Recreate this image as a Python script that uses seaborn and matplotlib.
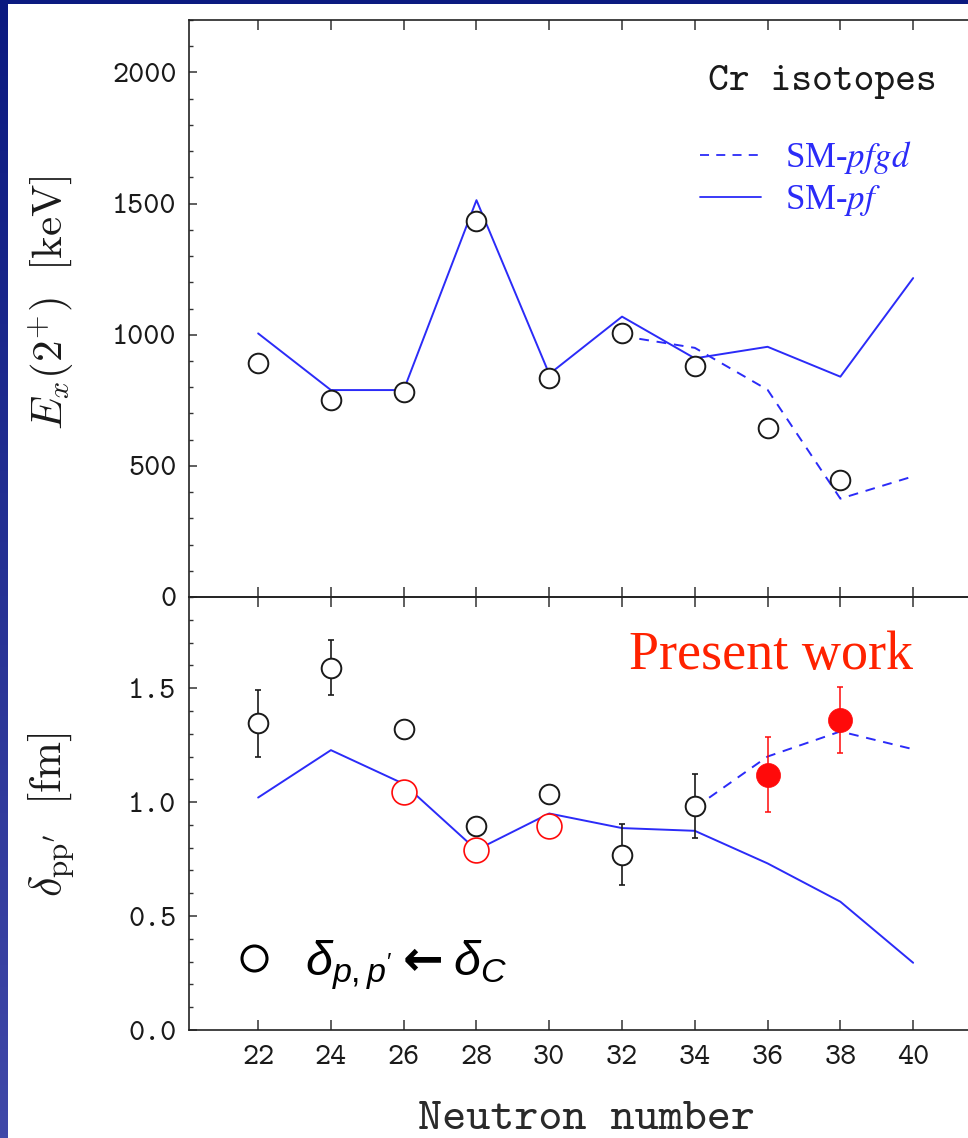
import numpy as np
import pandas as pd
import matplotlib
matplotlib.use("Agg")
import matplotlib.pyplot as plt
import seaborn as sns
from matplotlib.colors import LinearSegmentedColormap
from matplotlib.patches import Rectangle
from matplotlib.lines import Line2D
from matplotlib.ticker import MultipleLocator, FormatStrFormatter, NullLocator

# ---------------- data ----------------
neutrons = [22, 24, 26, 28, 30, 32, 34, 36, 38, 40]

# 2+ excitation energies of Cr isotopes (keV)
ex_exp_n = [22, 24, 26, 28, 30, 32, 34, 36, 38]
ex_exp = [892, 752, 783, 1434, 835, 1007, 880, 646, 446]
ex_pf = [1005, 789, 789, 1513, 850, 1069, 910, 954, 840, 1216]
ex_pfgd_n = [32, 34, 36, 38, 40]
ex_pfgd = [995, 950, 790, 375, 460]

# (p,p') deformation lengths (fm)
dpp_n = [22, 24, 26, 28, 30, 32, 34]
dpp = [1.345, 1.59, 1.32, 0.895, 1.037, 0.77, 0.982]
dpp_err = [0.147, 0.12, 0.0, 0.0, 0.0, 0.135, 0.14]
dc_n = [26, 28, 30]
dc = [1.045, 0.79, 0.893]
present_n = [36, 38]
present = [1.12, 1.36]
present_err = [0.165, 0.143]
dpp_pf = [1.02, 1.228, 1.08, 0.79, 0.95, 0.886, 0.874, 0.731, 0.563, 0.295]
dpp_pfgd_n = [34, 36, 38, 40]
dpp_pfgd = [0.975, 1.2, 1.31, 1.232]

# ---------------- style ----------------
sns.set_theme(style="ticks")
plt.rcParams["font.family"] = ["cmtt10", "DejaVu Sans"]
plt.rcParams["mathtext.fontset"] = "cm"
plt.rcParams["mathtext.rm"] = "Liberation Sans"
plt.rcParams["mathtext.it"] = "Liberation Sans:italic"
plt.rcParams["mathtext.bf"] = "Liberation Sans:bold"
plt.rcParams["axes.unicode_minus"] = False

BLUE = "#2b2bf8"
RED = "#ff0a0a"
INK = "#1a1a1a"
TICK = 22

W, H = 968, 1138
fig = plt.figure(figsize=(W / 100, H / 100), dpi=100)

# framed slide background
bg = fig.add_axes([0, 0, 1, 1], zorder=-10)
grad = np.linspace(0, 1, 256).reshape(-1, 1)
cmap = LinearSegmentedColormap.from_list("frame", ["#0b1a80", "#4048a8"])
bg.imshow(grad, aspect="auto", cmap=cmap, extent=[0, 1, 0, 1], origin="upper")
bg.add_patch(Rectangle((8 / W, 0), 1, 1 - 4 / H, color="white", lw=0))
bg.set_xlim(0, 1)
bg.set_ylim(0, 1)
bg.axis("off")

left = 189 / W
xl = (20.1, 41.6)
width = (xl[1] - xl[0]) * (655 / 18) / W
top_ax = fig.add_axes([left, 1 - 597 / H, width, (597 - 20) / H])
bot_ax = fig.add_axes([left, 1 - 1030 / H, width, (1030 - 597) / H])

# ---------------- upper panel: E_x(2+) ----------------
df_pf = pd.DataFrame({"N": neutrons, "E": ex_pf})
df_pfgd = pd.DataFrame({"N": ex_pfgd_n, "E": ex_pfgd})
df_ex = pd.DataFrame({"N": ex_exp_n, "E": ex_exp})

sns.lineplot(data=df_pfgd, x="N", y="E", ax=top_ax, color=BLUE, lw=1.4,
             linestyle=(0, (5, 4)), zorder=2, label="SM-$\\mathit{pfgd}$")
sns.lineplot(data=df_pf, x="N", y="E", ax=top_ax, color=BLUE, lw=1.4,
             zorder=2, label="SM-$\\mathit{pf}$")
sns.scatterplot(data=df_ex, x="N", y="E", ax=top_ax, marker="o", s=200,
                facecolor="white", edgecolor=INK, linewidth=1.4, zorder=4)

top_ax.set_ylim(0, 2200)
top_ax.yaxis.set_major_locator(MultipleLocator(500))
top_ax.yaxis.set_minor_locator(MultipleLocator(100))
top_ax.yaxis.set_major_formatter(FormatStrFormatter("%d"))
top_ax.set_xlabel("")
top_ax.set_ylabel(r"$E_x(2^{+})\ \ \mathrm{[keV]}$", fontsize=31, color=INK)
top_ax.yaxis.set_label_coords(-0.143, 0.511)

top_ax.text(0.664, 0.8925, "Cr isotopes", transform=top_ax.transAxes,
            fontsize=28.5, color=INK, ha="left", va="center", family="cmtt10")

leg = top_ax.legend(loc="center left", bbox_to_anchor=(0.653, 0.725), frameon=False,
                    borderpad=0, borderaxespad=0, handlelength=1.75, handletextpad=0.7,
                    labelspacing=0.2, prop={"family": "Liberation Serif", "size": 25})
for t in leg.get_texts():
    t.set_color(BLUE)
    t.set_math_fontfamily("stix")
for h in leg.get_lines():
    h.set_linewidth(1.3)

# ---------------- lower panel: delta_pp' ----------------
df_dpf = pd.DataFrame({"N": neutrons, "d": dpp_pf})
df_dpfgd = pd.DataFrame({"N": dpp_pfgd_n, "d": dpp_pfgd})
df_dpp = pd.DataFrame({"N": dpp_n, "d": dpp, "err": dpp_err})
df_dc = pd.DataFrame({"N": dc_n, "d": dc})
df_pw = pd.DataFrame({"N": present_n, "d": present, "err": present_err})

sns.lineplot(data=df_dpfgd, x="N", y="d", ax=bot_ax, color=BLUE, lw=1.4,
             linestyle=(0, (5, 4)), zorder=2)
sns.lineplot(data=df_dpf, x="N", y="d", ax=bot_ax, color=BLUE, lw=1.4, zorder=2)

with_err = df_dpp[df_dpp["err"] > 0]
bot_ax.errorbar(with_err["N"], with_err["d"], yerr=with_err["err"], fmt="none",
                ecolor=INK, elinewidth=1.2, capsize=2, capthick=1.2, zorder=3)
bot_ax.errorbar(df_pw["N"], df_pw["d"], yerr=df_pw["err"], fmt="none",
                ecolor=RED, elinewidth=1.1, capsize=2, capthick=1.1, zorder=3)

sns.scatterplot(data=df_dpp, x="N", y="d", ax=bot_ax, marker="o", s=200,
                facecolor="white", edgecolor=INK, linewidth=1.4, zorder=4)
sns.scatterplot(data=df_dc, x="N", y="d", ax=bot_ax, marker="o", s=320,
                facecolor="white", edgecolor=RED, linewidth=1.2, zorder=4)
sns.scatterplot(data=df_pw, x="N", y="d", ax=bot_ax, marker="o", s=300,
                color=RED, edgecolor=RED, linewidth=0.5, zorder=5)

bot_ax.set_ylim(0, 1.9)
bot_ax.yaxis.set_major_locator(MultipleLocator(0.5))
bot_ax.yaxis.set_minor_locator(MultipleLocator(0.1))
bot_ax.yaxis.set_major_formatter(FormatStrFormatter("%.1f"))
bot_ax.set_ylabel(r"$\delta_{\mathrm{pp}^{\prime}}\ \ \mathrm{[fm]}$", fontsize=32, color=INK)
bot_ax.yaxis.set_label_coords(-0.143, 0.497)
bot_ax.set_xlabel("Neutron number", fontsize=33, color="#2a2a2a", family="cmtt10")
bot_ax.xaxis.set_label_coords(0.508, -0.163)

bot_ax.text(0.563, 0.834, "Present work", transform=bot_ax.transAxes,
            fontsize=39, color="#ff2200", family="Liberation Serif",
            ha="left", va="baseline")

handle = Line2D([], [], ls="none", marker="o", markersize=18, markerfacecolor="white",
                markeredgecolor="black", markeredgewidth=2.2)
label = r"$\delta_{p,p^{\prime}}$" + "\u2009\u2190\u2009" + r"$\delta_C$"
leg2 = bot_ax.legend([handle], [label],
                     loc="center left", bbox_to_anchor=(0.052, 0.152), frameon=False,
                     borderpad=0, borderaxespad=0, handlelength=1.0, handletextpad=0.55,
                     prop={"family": "DejaVu Sans", "weight": "bold", "size": 35})
for t in leg2.get_texts():
    t.set_math_fontfamily("custom")
    t.set_color("black")

# ---------------- axes cosmetics ----------------
for ax in (top_ax, bot_ax):
    ax.set_xlim(*xl)
    ax.xaxis.set_major_locator(MultipleLocator(2))
    ax.xaxis.set_minor_locator(NullLocator())
    ax.xaxis.set_major_formatter(FormatStrFormatter("%d"))
    ax.tick_params(axis="x", which="major", direction="in", top=True, bottom=True,
                   length=7, width=1.1, color="#333333", labelsize=TICK, pad=11,
                   labelcolor=INK, labelfontfamily="cmtt10")
    ax.tick_params(axis="y", which="major", direction="in", left=True, right=False,
                   length=6, width=1.1, color="#333333", labelsize=TICK, pad=9,
                   labelcolor=INK, labelfontfamily="cmtt10")
    ax.tick_params(axis="y", which="minor", direction="in", left=True, right=False,
                   length=3, width=1.0, color="#333333")
    for s in ax.spines.values():
        s.set_color("#222222")
        s.set_linewidth(1.2)
    ax.spines["right"].set_visible(False)
    ax.set_facecolor("none")
top_ax.tick_params(axis="x", labelbottom=False)

fig.savefig("out.png", dpi=100)
